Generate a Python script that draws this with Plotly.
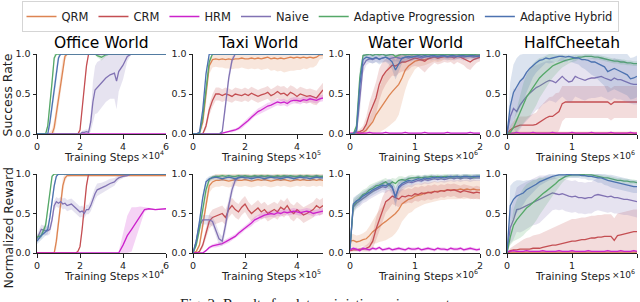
import plotly.graph_objects as go

W, H = 640, 302
FONT = "DejaVu Sans"

names = ["QRM", "CRM", "HRM", "Naive", "Adaptive Progression", "Adaptive Hybrid"]
colors = ["#DD8452", "#C44E52", "#CC22CC", "#8172B3", "#55A868", "#4C72B0"]
titles = ["Office World", "Taxi World", "Water World", "HalfCheetah"]
x_ticks = [[0, 2, 4, 6], [0, 2, 4], [0, 1, 2], [0, 1, 2]]
x_max = [6, 5, 2, 2]
x_exp = ["4", "5", "6", "6"]
y_ticks = [0, 0.5, 1.0]
y_tick_text = ["0.0", "0.5", "1.0"]
row_labels = ["Success Rate", "Normalized Reward"]
x_label = "Training Steps"
caption = "Fig. 2: Results for deterministic environments."

# ---------------- Office World (x in units of 1e4), values in percent ----------------
of_x = [0, 0.2, 0.4, 0.5, 0.6, 0.7, 0.8, 0.9, 1.0, 1.1,
        1.2, 1.3, 1.4, 1.6, 1.8, 1.9, 2.0, 2.1, 2.2, 2.3,
        2.4, 2.5, 2.6, 2.7, 2.8, 3.0, 3.2, 3.4, 3.6, 3.7,
        3.8, 4.0, 4.2, 4.4, 4.6, 4.8, 5.0, 5.2, 5.5, 6.0]

of_sr_qrm = [0, 0, 0, 0, 0, 0, 8, 25, 45, 65,
             82, 97, 100, 100, 100, 100, 100, 100, 100, 100,
             100, 100, 100, 100, 100, 100, 100, 100, 100, 100,
             100, 100, 100, 100, 100, 100, 100, 100, 100, 100]
of_sr_qrm_sd = [0, 0, 0, 0, 3, 6, 10, 12, 14, 14,
                12, 6, 2, 0, 0, 0, 0, 0, 0, 0,
                0, 0, 0, 0, 0, 0, 0, 0, 0, 0,
                0, 0, 0, 0, 0, 0, 0, 0, 0, 0]
of_sr_crm = [0, 0, 0, 0, 0, 0, 0, 0, 0, 0,
             0, 0, 0, 0, 0, 0, 5, 30, 60, 85,
             100, 100, 100, 100, 100, 100, 100, 100, 100, 100,
             100, 100, 100, 100, 100, 100, 100, 100, 100, 100]
of_sr_crm_sd = [0, 0, 0, 0, 0, 0, 0, 0, 0, 0,
                0, 0, 0, 0, 0, 0, 3, 6, 6, 5,
                1, 0, 0, 0, 0, 0, 0, 0, 0, 0,
                0, 0, 0, 0, 0, 0, 0, 0, 0, 0]
of_sr_hrm = [0, 0, 0, 0, 0, 0, 0, 0, 0, 0,
             0, 0, 0, 0, 0, 0, 0, 0, 0, 0,
             0, 0, 0, 0, 0, 0, 0, 0, 0, 0,
             0, 0, 0, 0, 0, 0, 0, 0, 0, 0]
of_sr_hrm_sd = [0, 0, 0, 0, 0, 0, 0, 0, 0, 0,
                0, 0, 0, 0, 0, 0, 0, 0, 0, 0,
                0, 0, 0, 0, 0, 0, 0, 0, 0, 0,
                0, 0, 0, 0, 0, 0, 0, 0, 0, 0]
of_sr_naive = [0, 0, 0, 0, 0, 0, 0, 0, 0, 0,
               0, 0, 0, 0, 0, 0, 0, 2, 2, 3,
               2, 15, 40, 55, 58, 63, 70, 74, 76, 66,
               78, 86, 97, 100, 100, 100, 100, 100, 100, 100]
of_sr_naive_sd = [0, 0, 0, 0, 0, 0, 0, 0, 0, 0,
                  0, 0, 0, 0, 0, 0, 0, 2, 3, 3,
                  3, 12, 25, 30, 32, 30, 30, 30, 32, 35,
                  25, 18, 6, 0, 0, 0, 0, 0, 0, 0]
of_sr_ap = [0, 0, 0, 10, 35, 65, 95, 100, 100, 100,
            100, 100, 100, 100, 100, 100, 100, 100, 100, 100,
            100, 100, 100, 100, 98, 96, 99, 100, 100, 100,
            100, 100, 100, 100, 100, 100, 100, 100, 100, 100]
of_sr_ap_sd = [0, 0, 0, 5, 10, 10, 5, 1, 0, 0,
               0, 0, 0, 0, 0, 0, 0, 0, 0, 0,
               0, 0, 0, 0, 2, 4, 2, 0, 0, 0,
               0, 0, 0, 0, 0, 0, 0, 0, 0, 0]
of_sr_ah = [0, 0, 0, 0, 15, 35, 55, 75, 95, 100,
            100, 100, 100, 100, 100, 100, 100, 100, 100, 100,
            100, 100, 100, 100, 100, 100, 100, 100, 100, 100,
            100, 100, 100, 100, 100, 100, 100, 100, 100, 100]
of_sr_ah_sd = [0, 0, 0, 0, 8, 10, 10, 10, 5, 1,
               0, 0, 0, 0, 0, 0, 0, 0, 0, 0,
               0, 0, 0, 0, 0, 0, 0, 0, 0, 0,
               0, 0, 0, 0, 0, 0, 0, 0, 0, 0]

of_nr_qrm = [0, 0, 0, 0, 0, 0, 0, 15, 40, 65,
             85, 95, 98, 98, 98, 98, 98, 98, 98, 98,
             98, 98, 98, 98, 98, 98, 98, 98, 98, 98,
             98, 98, 98, 98, 98, 98, 98, 98, 98, 98]
of_nr_qrm_sd = [0, 0, 0, 0, 0, 0, 2, 10, 14, 14,
                10, 5, 2, 1, 1, 1, 1, 1, 1, 1,
                1, 1, 1, 1, 1, 1, 1, 1, 1, 1,
                1, 1, 1, 1, 1, 1, 1, 1, 1, 1]
of_nr_crm = [0, 0, 0, 0, 0, 0, 0, 0, 0, 0,
             0, 0, 0, 0, 0, 2, 8, 30, 60, 85,
             100, 100, 100, 100, 100, 100, 100, 100, 100, 100,
             100, 100, 100, 100, 100, 100, 100, 100, 100, 100]
of_nr_crm_sd = [0, 0, 0, 0, 0, 0, 0, 0, 0, 0,
                0, 0, 0, 0, 0, 1, 3, 6, 6, 4,
                0, 0, 0, 0, 0, 0, 0, 0, 0, 0,
                0, 0, 0, 0, 0, 0, 0, 0, 0, 0]
of_nr_hrm = [0, 0, 0, 0, 0, 0, 0, 0, 0, 0,
             0, 0, 0, 0, 0, 0, 0, 0, 0, 0,
             0, 0, 0, 0, 0, 0, 0, 0, 0, 0,
             0, 10, 22, 30, 38, 47, 55, 56, 55, 56]
of_nr_hrm_sd = [0, 0, 0, 0, 0, 0, 0, 0, 0, 0,
                0, 0, 0, 0, 0, 0, 0, 0, 0, 0,
                0, 0, 0, 0, 0, 0, 0, 0, 0, 0,
                2, 15, 25, 28, 20, 12, 3, 1, 1, 1]
of_nr_naive = [18, 30, 28, 28, 30, 42, 60, 65, 63, 65,
               62, 63, 60, 62, 57, 55, 52, 53, 50, 55,
               55, 60, 68, 75, 80, 82, 85, 88, 90, 93,
               95, 97, 98, 100, 100, 100, 100, 100, 100, 100]
of_nr_naive_sd = [5, 6, 6, 6, 6, 6, 6, 6, 6, 6,
                  7, 7, 7, 7, 7, 7, 7, 7, 6, 6,
                  6, 7, 8, 8, 8, 7, 6, 6, 5, 4,
                  3, 2, 1, 0, 0, 0, 0, 0, 0, 0]
of_nr_ap = [20, 22, 35, 55, 80, 97, 100, 100, 100, 100,
            100, 100, 100, 100, 100, 100, 100, 100, 100, 100,
            100, 100, 100, 100, 100, 100, 100, 100, 100, 100,
            100, 100, 100, 100, 100, 100, 100, 100, 100, 100]
of_nr_ap_sd = [3, 4, 5, 5, 5, 2, 0, 0, 0, 0,
               0, 0, 0, 0, 0, 0, 0, 0, 0, 0,
               0, 0, 0, 0, 0, 0, 0, 0, 0, 0,
               0, 0, 0, 0, 0, 0, 0, 0, 0, 0]
of_nr_ah = [15, 22, 27, 30, 45, 65, 85, 97, 100, 100,
            100, 100, 100, 100, 100, 100, 100, 100, 100, 100,
            100, 100, 100, 100, 100, 100, 100, 100, 100, 100,
            100, 100, 100, 100, 100, 100, 100, 100, 100, 100]
of_nr_ah_sd = [4, 5, 5, 6, 6, 6, 5, 2, 0, 0,
               0, 0, 0, 0, 0, 0, 0, 0, 0, 0,
               0, 0, 0, 0, 0, 0, 0, 0, 0, 0,
               0, 0, 0, 0, 0, 0, 0, 0, 0, 0]

# ---------------- Taxi World (x in units of 1e5) ----------------
tx_x = [0, 0.125, 0.25, 0.375, 0.5, 0.625, 0.75, 0.875, 1.0, 1.125,
        1.25, 1.375, 1.5, 1.625, 1.75, 1.875, 2.0, 2.125, 2.25, 2.375,
        2.5, 2.625, 2.75, 2.875, 3.0, 3.125, 3.25, 3.375, 3.5, 3.625,
        3.75, 3.875, 4.0, 4.125, 4.25, 4.375, 4.5, 4.625, 4.75, 4.875,
        5.0]

tx_sr_qrm = [0, 0, 2, 15, 50, 85, 93, 94, 93, 94,
             93, 94, 93, 94, 94, 95, 94, 94, 95, 94,
             95, 94, 95, 96, 94, 95, 94, 95, 94, 95,
             96, 95, 96, 95, 96, 95, 96, 95, 96, 99,
             99]
tx_sr_qrm_sd = [0, 0, 2, 8, 12, 10, 10, 10, 10, 11,
                11, 12, 12, 12, 12, 12, 12, 13, 13, 13,
                13, 14, 14, 14, 15, 15, 16, 16, 17, 17,
                17, 16, 16, 15, 14, 14, 13, 12, 10, 6,
                5]
tx_sr_crm = [0, 0, 0, 0, 10, 30, 42, 50, 50, 48,
             50, 49, 47, 50, 49, 48, 50, 48, 51, 49,
             47, 49, 50, 52, 48, 50, 53, 50, 51, 48,
             52, 50, 47, 50, 48, 47, 48, 46, 45, 50,
             55]
tx_sr_crm_sd = [0, 0, 0, 2, 5, 7, 8, 8, 8, 8,
                8, 8, 8, 8, 8, 8, 8, 8, 8, 8,
                8, 8, 8, 8, 8, 8, 8, 9, 9, 9,
                9, 9, 9, 9, 9, 9, 9, 9, 9, 9,
                9]
tx_sr_hrm = [0, 0, 0, 0, 0, 0, 0, 0, 0, 1,
             2, 3, 4, 5, 7, 10, 14, 17, 21, 25,
             28, 30, 33, 35, 36, 38, 40, 39, 40, 38,
             41, 42, 42, 41, 43, 42, 44, 43, 42, 44,
             45]
tx_sr_hrm_sd = [0, 0, 0, 0, 0, 0, 0, 0, 0, 1,
                1, 1, 2, 2, 2, 3, 3, 3, 3, 3,
                4, 4, 4, 4, 4, 4, 4, 4, 4, 4,
                4, 4, 4, 4, 4, 4, 4, 4, 4, 4,
                4]
tx_sr_naive = [0, 0, 0, 0, 0, 0, 0, 0, 0, 3,
               35, 70, 92, 100, 100, 100, 100, 100, 100, 100,
               100, 100, 100, 100, 100, 100, 100, 100, 100, 100,
               100, 100, 100, 100, 100, 100, 100, 100, 100, 100,
               100]
tx_sr_naive_sd = [0, 0, 0, 0, 0, 0, 0, 0, 0, 2,
                  8, 8, 5, 1, 0, 0, 0, 0, 0, 0,
                  0, 0, 0, 0, 0, 0, 0, 0, 0, 0,
                  0, 0, 0, 0, 0, 0, 0, 0, 0, 0,
                  0]
tx_sr_ap = [0, 0, 0, 20, 55, 90, 100, 100, 100, 100,
            100, 100, 100, 100, 100, 100, 100, 100, 100, 100,
            100, 100, 100, 100, 100, 100, 100, 100, 100, 100,
            100, 100, 100, 100, 100, 100, 100, 100, 100, 100,
            100]
tx_sr_ap_sd = [0, 0, 0, 6, 8, 5, 1, 0, 0, 0,
               0, 0, 0, 0, 0, 0, 0, 0, 0, 0,
               0, 0, 0, 0, 0, 0, 0, 0, 0, 0,
               0, 0, 0, 0, 0, 0, 0, 0, 0, 0,
               0]
tx_sr_ah = [0, 0, 2, 30, 75, 100, 100, 100, 100, 100,
            100, 100, 100, 100, 100, 100, 100, 100, 100, 100,
            100, 100, 100, 100, 100, 100, 100, 100, 100, 100,
            100, 100, 100, 100, 100, 100, 100, 100, 100, 100,
            100]
tx_sr_ah_sd = [0, 0, 2, 6, 6, 2, 0, 0, 0, 0,
               0, 0, 0, 0, 0, 0, 0, 0, 0, 0,
               0, 0, 0, 0, 0, 0, 0, 0, 0, 0,
               0, 0, 0, 0, 0, 0, 0, 0, 0, 0,
               0]

tx_nr_qrm = [0, 2, 10, 35, 65, 85, 90, 92, 92, 93,
             92, 91, 92, 93, 92, 92, 93, 92, 91, 92,
             93, 92, 93, 92, 91, 92, 93, 92, 93, 92,
             91, 92, 93, 92, 93, 92, 92, 93, 92, 93,
             92]
tx_nr_qrm_sd = [0, 1, 4, 8, 10, 9, 8, 8, 8, 8,
                8, 8, 8, 8, 8, 8, 8, 8, 8, 8,
                8, 8, 8, 8, 8, 8, 8, 8, 8, 8,
                8, 8, 8, 8, 8, 8, 8, 8, 8, 8,
                8]
tx_nr_crm = [0, 0, 2, 10, 25, 40, 45, 47, 48, 50,
             45, 55, 60, 55, 52, 58, 62, 55, 50, 53,
             57, 52, 55, 50, 53, 55, 52, 58, 55, 60,
             53, 50, 55, 52, 48, 50, 53, 55, 60, 57,
             60]
tx_nr_crm_sd = [0, 0, 1, 4, 7, 9, 10, 10, 10, 10,
                10, 10, 10, 10, 10, 10, 10, 10, 10, 10,
                10, 10, 10, 10, 10, 10, 10, 10, 10, 10,
                10, 10, 10, 10, 10, 10, 10, 10, 10, 10,
                10]
tx_nr_hrm = [0, 0, 0, 0, 3, 7, 9, 10, 11, 12,
             14, 16, 18, 21, 25, 28, 32, 35, 38, 42,
             44, 47, 48, 49, 50, 49, 51, 50, 52, 51,
             52, 53, 52, 51, 52, 53, 52, 50, 51, 52,
             53]
tx_nr_hrm_sd = [0, 0, 0, 0, 1, 2, 2, 3, 3, 3,
                3, 3, 3, 3, 3, 3, 3, 3, 4, 4,
                4, 4, 4, 4, 4, 4, 4, 4, 4, 4,
                4, 4, 4, 4, 4, 4, 4, 4, 4, 4,
                4]
tx_nr_naive = [0, 15, 35, 42, 42, 42, 40, 30, 18, 15,
               35, 60, 80, 92, 96, 97, 96, 97, 96, 97,
               96, 97, 97, 96, 97, 96, 97, 96, 97, 97,
               96, 97, 96, 97, 96, 97, 97, 96, 97, 96,
               97]
tx_nr_naive_sd = [0, 4, 6, 6, 6, 6, 6, 8, 8, 6,
                  10, 10, 8, 5, 3, 2, 2, 2, 2, 2,
                  2, 2, 2, 2, 2, 2, 2, 2, 2, 2,
                  2, 2, 2, 2, 2, 2, 2, 2, 2, 2,
                  2]
tx_nr_ap = [0, 10, 30, 55, 80, 93, 96, 97, 97, 98,
            97, 98, 97, 97, 98, 97, 98, 97, 97, 98,
            97, 98, 97, 98, 97, 97, 98, 97, 98, 97,
            98, 97, 97, 98, 97, 98, 97, 97, 98, 97,
            97]
tx_nr_ap_sd = [0, 3, 5, 6, 5, 3, 2, 2, 2, 2,
               2, 2, 2, 2, 2, 2, 2, 2, 2, 2,
               2, 2, 2, 2, 2, 2, 2, 2, 2, 2,
               2, 2, 2, 2, 2, 2, 2, 2, 2, 2,
               2]
tx_nr_ah = [0, 15, 40, 70, 90, 94, 95, 96, 95, 94,
            95, 96, 95, 94, 95, 96, 95, 95, 94, 95,
            96, 95, 94, 95, 96, 95, 95, 94, 95, 96,
            95, 94, 95, 96, 95, 95, 94, 95, 96, 95,
            95]
tx_nr_ah_sd = [0, 4, 6, 6, 4, 3, 3, 3, 3, 3,
               3, 3, 3, 3, 3, 3, 3, 3, 3, 3,
               3, 3, 3, 3, 3, 3, 3, 3, 3, 3,
               3, 3, 3, 3, 3, 3, 3, 3, 3, 3,
               3]

# ---------------- Water World (x in units of 1e6) ----------------
ww_x = [0, 0.05, 0.1, 0.15, 0.2, 0.25, 0.3, 0.35, 0.4, 0.45,
        0.5, 0.55, 0.6, 0.65, 0.7, 0.75, 0.8, 0.85, 0.9, 0.95,
        1.0, 1.05, 1.1, 1.15, 1.2, 1.25, 1.3, 1.35, 1.4, 1.45,
        1.5, 1.55, 1.6, 1.65, 1.7, 1.75, 1.8, 1.85, 1.9, 1.95,
        2.0]

ww_sr_qrm = [0, 0, 0, 1, 2, 5, 10, 15, 24, 30,
             36, 43, 48, 53, 57, 62, 70, 80, 85, 88,
             91, 92, 93, 93, 94, 95, 96, 95, 96, 97,
             97, 96, 97, 97, 98, 97, 97, 98, 97, 98,
             98]
ww_sr_qrm_sd = [0, 0, 0, 1, 2, 5, 10, 15, 22, 28,
                32, 36, 38, 40, 40, 38, 32, 25, 18, 14,
                10, 8, 8, 7, 7, 6, 5, 5, 5, 4,
                4, 4, 4, 3, 3, 3, 3, 3, 3, 3,
                3]
ww_sr_crm = [0, 1, 2, 3, 5, 12, 25, 35, 45, 62,
             72, 78, 82, 86, 85, 88, 90, 90, 92, 94,
             95, 94, 92, 91, 94, 96, 97, 95, 96, 97,
             96, 97, 95, 97, 96, 94, 92, 90, 93, 95,
             96]
ww_sr_crm_sd = [0, 1, 2, 3, 5, 10, 15, 18, 20, 20,
                18, 16, 14, 13, 13, 12, 12, 12, 12, 10,
                10, 10, 12, 14, 12, 10, 8, 8, 8, 7,
                7, 7, 8, 7, 8, 8, 10, 10, 8, 6,
                5]
ww_sr_hrm = [1, 1, 2, 1, 1, 1, 2, 1, 1, 1,
             1, 2, 1, 1, 1, 1, 1, 2, 1, 1,
             1, 1, 1, 2, 1, 1, 1, 1, 1, 1,
             2, 1, 1, 1, 1, 1, 1, 2, 1, 1,
             1]
ww_sr_hrm_sd = [1, 1, 1, 1, 1, 1, 1, 1, 1, 1,
                1, 1, 1, 1, 1, 1, 1, 1, 1, 1,
                1, 1, 1, 1, 1, 1, 1, 1, 1, 1,
                1, 1, 1, 1, 1, 1, 1, 1, 1, 1,
                1]
ww_sr_naive = [0, 0, 2, 40, 85, 92, 94, 93, 95, 94,
               95, 96, 94, 95, 96, 95, 94, 96, 95, 96,
               97, 96, 95, 96, 97, 96, 97, 96, 97, 97,
               96, 97, 96, 97, 97, 96, 97, 97, 96, 97,
               97]
ww_sr_naive_sd = [0, 0, 2, 15, 10, 6, 5, 5, 5, 5,
                  5, 5, 5, 5, 5, 5, 5, 5, 5, 5,
                  4, 4, 4, 4, 4, 4, 4, 4, 4, 4,
                  4, 4, 4, 4, 4, 4, 4, 4, 4, 4,
                  4]
ww_sr_ap = [0, 0, 10, 70, 98, 99, 100, 98, 100, 99,
            100, 98, 99, 100, 97, 99, 100, 99, 100, 99,
            100, 99, 100, 99, 100, 99, 100, 99, 100, 99,
            100, 99, 100, 100, 99, 100, 99, 100, 99, 100,
            100]
ww_sr_ap_sd = [0, 0, 5, 12, 3, 2, 2, 2, 2, 2,
               2, 2, 2, 2, 2, 2, 2, 2, 2, 2,
               2, 2, 2, 2, 2, 2, 2, 2, 2, 2,
               2, 2, 2, 2, 2, 2, 2, 2, 2, 2,
               2]
ww_sr_ah = [0, 0, 5, 60, 93, 96, 95, 94, 96, 93,
            95, 96, 94, 90, 80, 88, 95, 96, 97, 96,
            97, 98, 97, 98, 97, 98, 98, 97, 98, 98,
            97, 98, 98, 97, 98, 98, 97, 98, 98, 97,
            98]
ww_sr_ah_sd = [0, 0, 3, 15, 8, 5, 5, 6, 6, 6,
               6, 6, 7, 10, 12, 10, 7, 5, 4, 4,
               4, 3, 3, 3, 3, 3, 3, 3, 3, 3,
               3, 3, 3, 3, 3, 3, 3, 3, 3, 3,
               3]

ww_nr_qrm = [15, 16, 14, 15, 17, 18, 22, 27, 30, 34,
             37, 40, 43, 46, 50, 55, 62, 65, 68, 69,
             72, 73, 74, 76, 76, 77, 78, 78, 79, 79,
             80, 80, 80, 80, 81, 80, 81, 80, 81, 80,
             80]
ww_nr_qrm_sd = [8, 8, 8, 8, 8, 10, 12, 15, 18, 20,
                22, 24, 25, 25, 25, 24, 22, 20, 18, 17,
                16, 15, 14, 14, 13, 13, 13, 12, 12, 12,
                12, 12, 12, 12, 12, 12, 12, 12, 12, 12,
                12]
ww_nr_crm = [3, 4, 4, 5, 5, 6, 8, 15, 30, 42,
             55, 65, 68, 72, 70, 68, 72, 71, 73, 72,
             75, 74, 76, 75, 77, 76, 78, 77, 79, 78,
             80, 79, 80, 78, 77, 79, 78, 77, 76, 77,
             76]
ww_nr_crm_sd = [2, 2, 2, 2, 3, 4, 6, 10, 14, 16,
                16, 14, 12, 10, 10, 10, 9, 9, 9, 9,
                9, 9, 9, 9, 9, 9, 9, 8, 8, 8,
                8, 8, 8, 8, 8, 8, 8, 8, 8, 8,
                8]
ww_nr_hrm = [4, 6, 5, 3, 6, 5, 4, 6, 5, 7,
             4, 5, 6, 4, 5, 6, 5, 4, 6, 5,
             5, 6, 4, 5, 6, 5, 4, 6, 5, 5,
             4, 6, 5, 5, 6, 4, 5, 6, 5, 4,
             5]
ww_nr_hrm_sd = [2, 2, 2, 2, 2, 2, 2, 2, 2, 2,
                2, 2, 2, 2, 2, 2, 2, 2, 2, 2,
                2, 2, 2, 2, 2, 2, 2, 2, 2, 2,
                2, 2, 2, 2, 2, 2, 2, 2, 2, 2,
                2]
ww_nr_naive = [5, 58, 63, 66, 70, 72, 75, 78, 80, 82,
               84, 83, 86, 82, 72, 82, 86, 88, 90, 89,
               91, 92, 91, 93, 92, 93, 94, 93, 94, 93,
               94, 95, 94, 95, 94, 95, 95, 94, 95, 95,
               95]
ww_nr_naive_sd = [2, 8, 7, 7, 7, 7, 7, 7, 7, 7,
                  7, 7, 7, 8, 10, 8, 7, 6, 6, 6,
                  5, 5, 5, 5, 5, 5, 4, 4, 4, 4,
                  4, 4, 4, 4, 4, 4, 4, 4, 4, 4,
                  4]
ww_nr_ap = [5, 60, 65, 70, 74, 76, 80, 82, 85, 86,
            88, 90, 86, 90, 88, 92, 93, 92, 94, 95,
            95, 96, 95, 96, 96, 97, 96, 97, 96, 97,
            97, 96, 97, 97, 96, 97, 97, 97, 96, 97,
            97]
ww_nr_ap_sd = [2, 8, 7, 6, 6, 6, 6, 6, 5, 5,
               5, 5, 6, 5, 6, 5, 4, 4, 4, 4,
               3, 3, 3, 3, 3, 3, 3, 3, 3, 3,
               3, 3, 3, 3, 3, 3, 3, 3, 3, 3,
               3]
ww_nr_ah = [5, 62, 66, 68, 72, 74, 77, 80, 82, 84,
            86, 85, 88, 84, 70, 84, 88, 90, 92, 91,
            93, 94, 93, 95, 94, 95, 96, 95, 96, 95,
            96, 97, 96, 97, 96, 97, 97, 96, 97, 97,
            97]
ww_nr_ah_sd = [2, 8, 7, 7, 6, 6, 6, 6, 6, 6,
               6, 6, 6, 8, 12, 8, 6, 5, 5, 5,
               4, 4, 4, 4, 4, 4, 3, 3, 3, 3,
               3, 3, 3, 3, 3, 3, 3, 3, 3, 3,
               3]

# ---------------- HalfCheetah (x in units of 1e6) ----------------
hc_x = [0, 0.05, 0.1, 0.15, 0.2, 0.25, 0.3, 0.35, 0.4, 0.45,
        0.5, 0.55, 0.6, 0.65, 0.7, 0.75, 0.8, 0.85, 0.9, 0.95,
        1.0, 1.05, 1.1, 1.15, 1.2, 1.25, 1.3, 1.35, 1.4, 1.45,
        1.5, 1.55, 1.6, 1.65, 1.7, 1.75, 1.8, 1.85, 1.9, 1.95,
        2.0]

hc_sr_qrm = [0, 1, 1, 1, 1, 1, 1, 1, 1, 1,
             1, 1, 1, 1, 1, 1, 1, 1, 1, 1,
             1, 1, 1, 1, 1, 1, 1, 1, 1, 1,
             1, 1, 1, 1, 1, 1, 1, 1, 1, 1,
             1]
hc_sr_qrm_sd = [0, 1, 2, 2, 2, 2, 2, 2, 2, 2,
                2, 2, 2, 2, 2, 2, 2, 2, 2, 2,
                2, 2, 2, 2, 2, 2, 2, 2, 2, 2,
                2, 2, 2, 2, 2, 2, 2, 2, 2, 2,
                2]
hc_sr_crm = [0, 5, 8, 10, 11, 11, 11, 11, 11, 12,
             15, 18, 20, 22, 22, 25, 28, 38, 40, 40,
             40, 40, 40, 40, 40, 40, 40, 40, 40, 40,
             40, 40, 37, 40, 40, 40, 40, 40, 40, 40,
             40]
hc_sr_crm_sd = [0, 5, 8, 10, 11, 11, 11, 12, 14, 15,
                18, 20, 22, 24, 25, 26, 24, 22, 20, 20,
                20, 20, 20, 20, 20, 20, 20, 20, 20, 20,
                20, 20, 20, 20, 20, 20, 20, 20, 20, 20,
                20]
hc_sr_hrm = [1, 1, 1, 2, 1, 1, 1, 1, 2, 1,
             1, 1, 1, 1, 2, 1, 1, 1, 1, 1,
             2, 1, 1, 1, 1, 1, 2, 1, 1, 1,
             1, 1, 2, 1, 1, 1, 1, 1, 2, 1,
             1]
hc_sr_hrm_sd = [1, 1, 1, 1, 1, 1, 1, 1, 1, 1,
                1, 1, 1, 1, 1, 1, 1, 1, 1, 1,
                1, 1, 1, 1, 1, 1, 1, 1, 1, 1,
                1, 1, 1, 1, 1, 1, 1, 1, 1, 1,
                1]
hc_sr_naive = [0, 22, 32, 28, 36, 42, 47, 51, 55, 58,
               60, 63, 65, 67, 66, 64, 68, 72, 68, 65,
               66, 72, 70, 68, 67, 69, 70, 70, 71, 72,
               70, 68, 67, 70, 68, 68, 66, 65, 63, 62,
               62]
hc_sr_naive_sd = [0, 15, 25, 28, 30, 30, 30, 30, 30, 28,
                  28, 26, 26, 25, 25, 25, 25, 25, 25, 25,
                  25, 25, 25, 25, 25, 25, 25, 25, 25, 25,
                  25, 25, 25, 25, 25, 25, 25, 25, 25, 25,
                  25]
hc_sr_ap = [0, 2, 8, 18, 28, 38, 46, 52, 58, 64,
            70, 74, 78, 82, 85, 87, 89, 91, 92, 93,
            94, 95, 96, 96, 97, 97, 97, 96, 96, 95,
            94, 93, 92, 91, 91, 90, 90, 89, 89, 88,
            88]
hc_sr_ap_sd = [0, 2, 8, 15, 20, 25, 28, 30, 30, 28,
               25, 22, 20, 18, 15, 12, 10, 8, 6, 5,
               4, 4, 3, 3, 3, 3, 3, 3, 3, 3,
               3, 3, 3, 3, 3, 3, 3, 3, 3, 3,
               3]
hc_sr_ah = [0, 35, 52, 60, 66, 70, 77, 82, 86, 89,
            92, 93, 95, 94, 95, 96, 97, 97, 96, 97,
            96, 95, 95, 93, 93, 92, 90, 90, 88, 86,
            84, 78, 80, 82, 80, 78, 76, 74, 69, 70,
            72]
hc_sr_ah_sd = [0, 30, 35, 35, 33, 30, 25, 20, 15, 12,
               10, 8, 6, 6, 6, 6, 6, 6, 6, 6,
               6, 7, 8, 10, 12, 14, 16, 18, 20, 22,
               24, 26, 26, 26, 26, 26, 26, 26, 26, 26,
               26]

hc_nr_qrm = [0, 1, 1, 1, 1, 1, 1, 1, 1, 1,
             1, 1, 1, 1, 1, 1, 1, 1, 1, 1,
             1, 1, 1, 1, 1, 1, 1, 1, 1, 1,
             1, 1, 1, 1, 1, 1, 1, 1, 1, 1,
             1]
hc_nr_qrm_sd = [0, 1, 1, 1, 1, 1, 1, 1, 1, 1,
                1, 1, 1, 1, 1, 1, 1, 1, 1, 1,
                1, 1, 1, 1, 1, 1, 1, 1, 1, 1,
                1, 1, 1, 1, 1, 1, 1, 1, 1, 1,
                1]
hc_nr_crm = [0, 3, 4, 4, 5, 5, 5, 5, 6, 6,
             6, 7, 8, 9, 10, 10, 11, 12, 13, 14,
             15, 15, 16, 17, 17, 18, 19, 19, 20, 20,
             21, 21, 21, 16, 22, 23, 24, 25, 26, 27,
             27]
hc_nr_crm_sd = [0, 3, 5, 8, 10, 12, 14, 15, 16, 17,
                18, 19, 20, 21, 22, 23, 24, 25, 26, 27,
                28, 28, 28, 28, 28, 28, 28, 28, 28, 28,
                28, 28, 28, 28, 28, 28, 28, 28, 28, 28,
                28]
hc_nr_hrm = [2, 2, 3, 2, 2, 2, 3, 2, 2, 2,
             2, 3, 2, 2, 2, 2, 3, 2, 2, 2,
             3, 2, 2, 2, 2, 3, 2, 2, 2, 2,
             2, 3, 2, 2, 2, 3, 2, 2, 2, 3,
             2]
hc_nr_hrm_sd = [1, 1, 1, 1, 1, 1, 1, 1, 1, 1,
                1, 1, 1, 1, 1, 1, 1, 1, 1, 1,
                1, 1, 1, 1, 1, 1, 1, 1, 1, 1,
                1, 1, 1, 1, 1, 1, 1, 1, 1, 1,
                1]
hc_nr_naive = [0, 32, 42, 55, 56, 58, 60, 63, 65, 66,
               68, 70, 72, 74, 76, 75, 74, 75, 73, 72,
               71, 72, 70, 70, 69, 70, 70, 73, 74, 73,
               72, 71, 72, 70, 70, 69, 68, 68, 67, 66,
               65]
hc_nr_naive_sd = [0, 20, 25, 28, 30, 30, 30, 30, 30, 30,
                  30, 28, 26, 24, 22, 20, 20, 20, 20, 20,
                  20, 20, 20, 20, 20, 20, 20, 20, 20, 20,
                  20, 20, 20, 20, 20, 20, 20, 20, 20, 20,
                  20]
hc_nr_ap = [0, 20, 35, 42, 47, 52, 57, 60, 64, 67,
            72, 75, 78, 81, 84, 88, 92, 95, 97, 98,
            99, 99, 99, 100, 99, 99, 99, 98, 97, 96,
            95, 95, 94, 93, 92, 92, 91, 91, 90, 90,
            89]
hc_nr_ap_sd = [0, 10, 20, 25, 28, 30, 30, 30, 28, 26,
               24, 20, 18, 15, 12, 10, 8, 6, 4, 3,
               3, 3, 3, 3, 3, 3, 3, 3, 3, 3,
               3, 3, 3, 3, 3, 3, 3, 3, 3, 3,
               3]
hc_nr_ah = [0, 60, 68, 72, 74, 76, 80, 82, 85, 87,
            90, 92, 94, 96, 97, 98, 99, 99, 99, 100,
            99, 99, 99, 98, 98, 97, 97, 96, 95, 95,
            93, 92, 91, 90, 89, 88, 87, 86, 85, 84,
            84]
hc_nr_ah_sd = [0, 25, 22, 20, 18, 15, 12, 10, 8, 6,
               5, 4, 4, 4, 4, 4, 4, 4, 4, 4,
               4, 4, 4, 4, 4, 5, 5, 5, 6, 6,
               7, 7, 8, 8, 8, 8, 8, 8, 8, 8,
               8]

# ---------------- assemble panels ----------------
panels = [
    (of_x, [of_sr_qrm, of_sr_crm, of_sr_hrm, of_sr_naive, of_sr_ap, of_sr_ah],
     [of_sr_qrm_sd, of_sr_crm_sd, of_sr_hrm_sd, of_sr_naive_sd, of_sr_ap_sd, of_sr_ah_sd]),
    (tx_x, [tx_sr_qrm, tx_sr_crm, tx_sr_hrm, tx_sr_naive, tx_sr_ap, tx_sr_ah],
     [tx_sr_qrm_sd, tx_sr_crm_sd, tx_sr_hrm_sd, tx_sr_naive_sd, tx_sr_ap_sd, tx_sr_ah_sd]),
    (ww_x, [ww_sr_qrm, ww_sr_crm, ww_sr_hrm, ww_sr_naive, ww_sr_ap, ww_sr_ah],
     [ww_sr_qrm_sd, ww_sr_crm_sd, ww_sr_hrm_sd, ww_sr_naive_sd, ww_sr_ap_sd, ww_sr_ah_sd]),
    (hc_x, [hc_sr_qrm, hc_sr_crm, hc_sr_hrm, hc_sr_naive, hc_sr_ap, hc_sr_ah],
     [hc_sr_qrm_sd, hc_sr_crm_sd, hc_sr_hrm_sd, hc_sr_naive_sd, hc_sr_ap_sd, hc_sr_ah_sd]),
    (of_x, [of_nr_qrm, of_nr_crm, of_nr_hrm, of_nr_naive, of_nr_ap, of_nr_ah],
     [of_nr_qrm_sd, of_nr_crm_sd, of_nr_hrm_sd, of_nr_naive_sd, of_nr_ap_sd, of_nr_ah_sd]),
    (tx_x, [tx_nr_qrm, tx_nr_crm, tx_nr_hrm, tx_nr_naive, tx_nr_ap, tx_nr_ah],
     [tx_nr_qrm_sd, tx_nr_crm_sd, tx_nr_hrm_sd, tx_nr_naive_sd, tx_nr_ap_sd, tx_nr_ah_sd]),
    (ww_x, [ww_nr_qrm, ww_nr_crm, ww_nr_hrm, ww_nr_naive, ww_nr_ap, ww_nr_ah],
     [ww_nr_qrm_sd, ww_nr_crm_sd, ww_nr_hrm_sd, ww_nr_naive_sd, ww_nr_ap_sd, ww_nr_ah_sd]),
    (hc_x, [hc_nr_qrm, hc_nr_crm, hc_nr_hrm, hc_nr_naive, hc_nr_ap, hc_nr_ah],
     [hc_nr_qrm_sd, hc_nr_crm_sd, hc_nr_hrm_sd, hc_nr_naive_sd, hc_nr_ap_sd, hc_nr_ah_sd]),
]

for pi, (xs, means, sds) in enumerate(panels):
    for si in range(6):
        assert len(means[si]) == len(xs), (pi, si, "mean", len(means[si]), len(xs))
        assert len(sds[si]) == len(xs), (pi, si, "sd", len(sds[si]), len(xs))


def rgba(h, a):
    h = h.lstrip("#")
    return "rgba(%d,%d,%d,%.2f)" % (int(h[0:2], 16), int(h[2:4], 16), int(h[4:6], 16), a)


col_px = [(37, 166), (193, 323), (350, 480), (507, 637)]
row_px = [(54, 134), (174, 253)]

fig = go.Figure()
layout = dict(
    width=W, height=H, margin=dict(l=0, r=0, t=0, b=0, autoexpand=False),
    paper_bgcolor="white", plot_bgcolor="white",
    font=dict(family=FONT, color="#222222", size=10),
    showlegend=True,
    legend=dict(orientation="h", x=0.5, xanchor="center", y=1 - 1 / H, yanchor="top",
                bgcolor="white", bordercolor="#d5d5d5", borderwidth=1,
                font=dict(size=11.5, family=FONT, color="#222222"),
                itemwidth=30, tracegroupgap=0),
)
annotations = []

for pi, (xs, means, sds) in enumerate(panels):
    r, c = divmod(pi, 4)
    k = pi + 1
    xa = "x" if k == 1 else "x%d" % k
    ya = "y" if k == 1 else "y%d" % k
    for si in range(6):
        m = [v / 100 for v in means[si]]
        lo = [max(0, (v - s)) / 100 for v, s in zip(means[si], sds[si])]
        hi = [min(100, (v + s)) / 100 for v, s in zip(means[si], sds[si])]
        fig.add_trace(go.Scatter(
            x=list(xs) + list(xs)[::-1], y=hi + lo[::-1], fill="toself",
            fillcolor=rgba(colors[si], 0.2), line=dict(width=0), mode="lines",
            hoverinfo="skip", showlegend=False, xaxis=xa, yaxis=ya))
        fig.add_trace(go.Scatter(
            x=xs, y=m, mode="lines", name=names[si],
            line=dict(color=colors[si], width=1.3),
            showlegend=(pi == 0), legendgroup=names[si], xaxis=xa, yaxis=ya))
    x0, x1 = col_px[c]
    y0, y1 = row_px[r]
    axstyle = dict(showline=True, linecolor="#222222", linewidth=1, ticks="outside",
                   ticklen=3.5, tickwidth=1, tickcolor="#222222", showgrid=False,
                   zeroline=False, tickfont=dict(size=9.5, family=FONT, color="#222222"),
                   fixedrange=True, automargin=False)
    layout["xaxis" if k == 1 else "xaxis%d" % k] = dict(
        domain=[x0 / W, x1 / W], range=[0, x_max[c]], anchor=ya,
        tickvals=x_ticks[c], ticktext=[str(t) for t in x_ticks[c]], **axstyle)
    layout["yaxis" if k == 1 else "yaxis%d" % k] = dict(
        domain=[1 - y1 / H, 1 - y0 / H], range=[0, 1.0], anchor=xa,
        tickvals=y_ticks, ticktext=y_tick_text, **axstyle)
    xc = (x0 + x1) / 2 / W
    if r == 0:
        annotations.append(dict(text=titles[c], x=xc, y=1 - 43 / H, xref="paper", yref="paper",
                                xanchor="center", yanchor="middle", showarrow=False,
                                font=dict(size=15.5, family=FONT, color="black")))
    ly = y1 + 23
    annotations.append(dict(text=x_label, x=xc, y=1 - ly / H, xref="paper", yref="paper",
                            xanchor="center", yanchor="middle", showarrow=False,
                            font=dict(size=10.5, family=FONT, color="#222222")))
    annotations.append(dict(text="×10<sup>%s</sup>" % x_exp[c], x=x1 / W, y=1 - (ly - 2) / H,
                            xref="paper", yref="paper", xanchor="right", yanchor="middle",
                            showarrow=False, font=dict(size=9, family=FONT, color="#222222")))

annotations.append(dict(text=row_labels[0], x=7.5 / W, y=1 - 95 / H, xref="paper", yref="paper",
                        xanchor="center", yanchor="middle", textangle=-90, showarrow=False,
                        font=dict(size=12.5, family=FONT, color="#222222")))
annotations.append(dict(text=row_labels[1], x=7.5 / W, y=1 - 228 / H, xref="paper", yref="paper",
                        xanchor="center", yanchor="middle", textangle=-90, showarrow=False,
                        font=dict(size=12.5, family=FONT, color="#222222")))
annotations.append(dict(text=caption, x=0.5, y=1 - 294 / H, xref="paper", yref="paper",
                        xanchor="center", yanchor="top", showarrow=False,
                        font=dict(size=15, family="Liberation Serif", color="#222222")))
layout["annotations"] = annotations
fig.update_layout(**layout)
fig.write_html("out.html", config={"displayModeBar": False},
               post_script="document.body.style.margin='0';document.body.style.padding='0';")
